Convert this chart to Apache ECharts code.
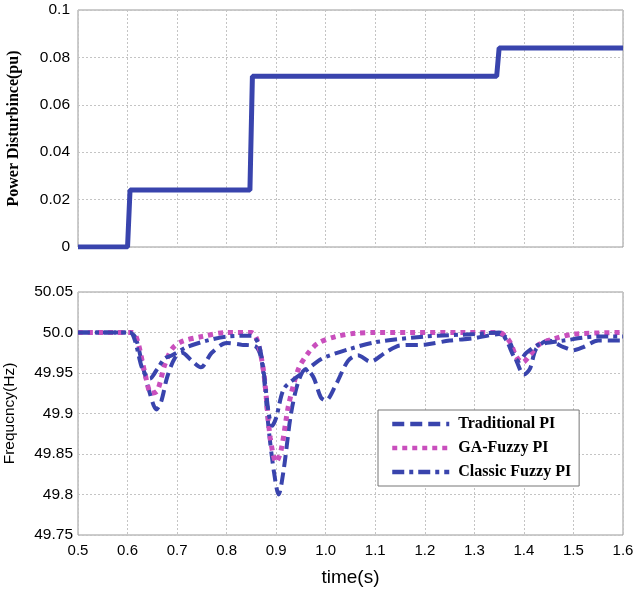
<!DOCTYPE html>
<html>
<head>
<meta charset="utf-8">
<script src="https://cdn.jsdelivr.net/npm/echarts@6/dist/echarts.min.js"></script>
<style>
html, body { margin: 0; padding: 0; background: #fff; }
#main { width: 635px; height: 589px; }
</style>
</head>
<body>
<div id="main"></div>
<script>
// 扰动功率阶跃和三种控制器下的频率响应

// 时间刻度
var xTicks = [0.5, 0.6, 0.7, 0.8, 0.9, 1.0, 1.1, 1.2, 1.3, 1.4, 1.5, 1.6];

// 上图：扰动功率 (pu)
var distTime = [0.5, 0.6, 0.605, 0.847, 0.852, 1.345, 1.35, 1.6];
var distVal = [0, 0, 0.024, 0.024, 0.072, 0.072, 0.084, 0.084];

// 下图：频率 (Hz)
var tradTime = [0.5, 0.6, 0.615, 0.63, 0.645, 0.658, 0.668, 0.68, 0.695, 0.71, 0.73, 0.748, 0.77, 0.8, 0.83, 0.86, 0.872, 0.885, 0.895, 0.905, 0.915, 0.93, 0.945, 0.96, 0.975, 0.99, 1.0, 1.02, 1.045, 1.065, 1.09, 1.12, 1.15, 1.2, 1.25, 1.3, 1.35, 1.37, 1.385, 1.4, 1.412, 1.425, 1.45, 1.48, 1.5, 1.52, 1.55, 1.6];
var tradVal = [50.0, 50.0, 49.995, 49.96, 49.925, 49.905, 49.915, 49.945, 49.968, 49.975, 49.965, 49.957, 49.975, 49.987, 49.985, 49.982, 49.96, 49.88, 49.83, 49.80, 49.83, 49.9, 49.94, 49.955, 49.945, 49.92, 49.916, 49.935, 49.965, 49.972, 49.964, 49.975, 49.984, 49.985, 49.99, 49.993, 49.998, 49.99, 49.965, 49.948, 49.955, 49.98, 49.99, 49.982, 49.978, 49.982, 49.99, 49.99];

var gaTime = [0.5, 0.61, 0.62, 0.635, 0.648, 0.66, 0.675, 0.69, 0.71, 0.75, 0.8, 0.85, 0.862, 0.875, 0.888, 0.9, 0.91, 0.925, 0.945, 0.965, 0.985, 1.02, 1.06, 1.1, 1.35, 1.37, 1.385, 1.397, 1.41, 1.43, 1.46, 1.5, 1.6];
var gaVal = [50.0, 50.0, 49.99, 49.95, 49.925, 49.928, 49.96, 49.98, 49.989, 49.995, 50.0, 50.0, 49.99, 49.95, 49.87, 49.84, 49.855, 49.91, 49.955, 49.975, 49.987, 49.995, 49.999, 50.0, 50.0, 49.99, 49.97, 49.963, 49.97, 49.985, 49.992, 49.998, 50.0];

var fuzzyTime = [0.5, 0.605, 0.615, 0.63, 0.645, 0.66, 0.675, 0.69, 0.72, 0.76, 0.8, 0.85, 0.865, 0.875, 0.885, 0.892, 0.9, 0.915, 0.935, 0.96, 0.985, 1.0, 1.05, 1.1, 1.2, 1.3, 1.35, 1.365, 1.38, 1.39, 1.405, 1.43, 1.48, 1.55, 1.6];
var fuzzyVal = [50.0, 50.0, 49.99, 49.955, 49.943, 49.955, 49.968, 49.972, 49.982, 49.99, 49.995, 49.996, 49.985, 49.95, 49.9, 49.885, 49.895, 49.93, 49.942, 49.953, 49.965, 49.97, 49.98, 49.988, 49.995, 49.998, 50.0, 49.99, 49.97, 49.965, 49.975, 49.985, 49.99, 49.995, 49.995];

var legendNames = ['Traditional PI', 'GA-Fuzzy PI', 'Classic Fuzzy PI'];

function pairs(t, v) {
	var arr = [];
	for (var i = 0; i < t.length; i++) {
		arr.push([t[i], v[i]]);
	}
	return arr;
}

var blue = '#3944ad';
var pink = '#c94fbd';
var gridLine = { show: true, lineStyle: { color: '#c4c4c4', type: [2, 2], width: 1 } };

var myChart = echarts.init(document.getElementById('main'));

var option = {
	animation: false,
	backgroundColor: '#fff',
	grid: [
		{ left: 78, right: 12, top: 10, height: 237, show: true, borderColor: '#999', borderWidth: 1, outerBoundsMode: 'none', containLabel: false },
		{ left: 78, right: 12, top: 292, height: 243, show: true, borderColor: '#999', borderWidth: 1, outerBoundsMode: 'none', containLabel: false }
	],
	xAxis: [{
		gridIndex: 0, type: 'value', min: 0.5, max: 1.6, interval: 0.1,
		axisLine: { show: false }, axisTick: { show: false }, axisLabel: { show: false },
		splitLine: gridLine
	}, {
		gridIndex: 1, type: 'value', min: 0.5, max: 1.6, interval: 0.1,
		name: 'time(s)', nameLocation: 'middle', nameGap: 33,
		nameTextStyle: { color: '#000', fontSize: 19, fontFamily: 'Liberation Sans, Arial, sans-serif' },
		axisLine: { show: false }, axisTick: { show: false },
		axisLabel: {
			color: '#000', fontSize: 15, fontFamily: 'Liberation Sans, Arial, sans-serif', margin: 8,
			formatter: function(v) { return v.toFixed(1); }
		},
		splitLine: gridLine
	}],
	yAxis: [{
		gridIndex: 0, type: 'value', min: 0, max: 0.1, interval: 0.02,
		name: 'Power Disturbince(pu)', nameLocation: 'middle', nameGap: 56,
		nameTextStyle: { color: '#000', fontSize: 16, fontWeight: 'bold', fontFamily: 'Liberation Serif, Times New Roman, serif' },
		axisLine: { show: false }, axisTick: { show: false },
		axisLabel: {
			color: '#000', fontSize: 15.5, fontFamily: 'Liberation Sans, Arial, sans-serif', margin: 8,
			formatter: function(v) { return v === 0 ? '0' : (v === 0.1 ? '0.1' : v.toFixed(2)); }
		},
		splitLine: gridLine
	}, {
		gridIndex: 1, type: 'value', min: 49.75, max: 50.05, interval: 0.05,
		name: 'Frequcncy(Hz)', nameLocation: 'middle', nameGap: 60,
		nameTextStyle: { color: '#000', fontSize: 15.5, fontFamily: 'Liberation Sans, Arial, sans-serif' },
		axisLine: { show: false }, axisTick: { show: false },
		axisLabel: {
			color: '#000', fontSize: 15.5, fontFamily: 'Liberation Sans, Arial, sans-serif', margin: 5,
			formatter: function(v) {
				var s = (Math.round(v * 100) / 100).toString();
				if (s === '50') s = '50.0';
				return s;
			}
		},
		splitLine: gridLine
	}],
	legend: {
		data: legendNames,
		orient: 'vertical',
		left: 378, top: 410,
		itemWidth: 57, itemHeight: 14, itemGap: 8,
		padding: [6, 8, 6, 12],
		backgroundColor: '#fff', borderColor: '#777', borderWidth: 1,
		itemStyle: { opacity: 0 },
		lineStyle: { width: 4.5 },
		textStyle: { color: '#000', fontSize: 16, fontWeight: 'bold', fontFamily: 'Liberation Serif, Times New Roman, serif', padding: [0, 0, 0, 4] }
	},
	series: [{
		name: 'Disturbance', type: 'line', xAxisIndex: 0, yAxisIndex: 0,
		data: pairs(distTime, distVal), symbol: 'none',
		lineStyle: { color: blue, width: 5 }
	}, {
		name: legendNames[0], type: 'line', xAxisIndex: 1, yAxisIndex: 1,
		data: pairs(tradTime, tradVal), symbol: 'none', smooth: 0.3,
		itemStyle: { color: blue },
		lineStyle: { color: blue, width: 4, type: [12, 6] }
	}, {
		name: legendNames[1], type: 'line', xAxisIndex: 1, yAxisIndex: 1,
		data: pairs(gaTime, gaVal), symbol: 'none', smooth: 0.3,
		itemStyle: { color: pink },
		lineStyle: { color: pink, width: 5, type: [5, 5] }
	}, {
		name: legendNames[2], type: 'line', xAxisIndex: 1, yAxisIndex: 1,
		data: pairs(fuzzyTime, fuzzyVal), symbol: 'none', smooth: 0.3,
		itemStyle: { color: blue },
		lineStyle: { color: blue, width: 4, type: [12, 5, 4, 5] }
	}]
};

myChart.setOption(option);
</script>
</body>
</html>
